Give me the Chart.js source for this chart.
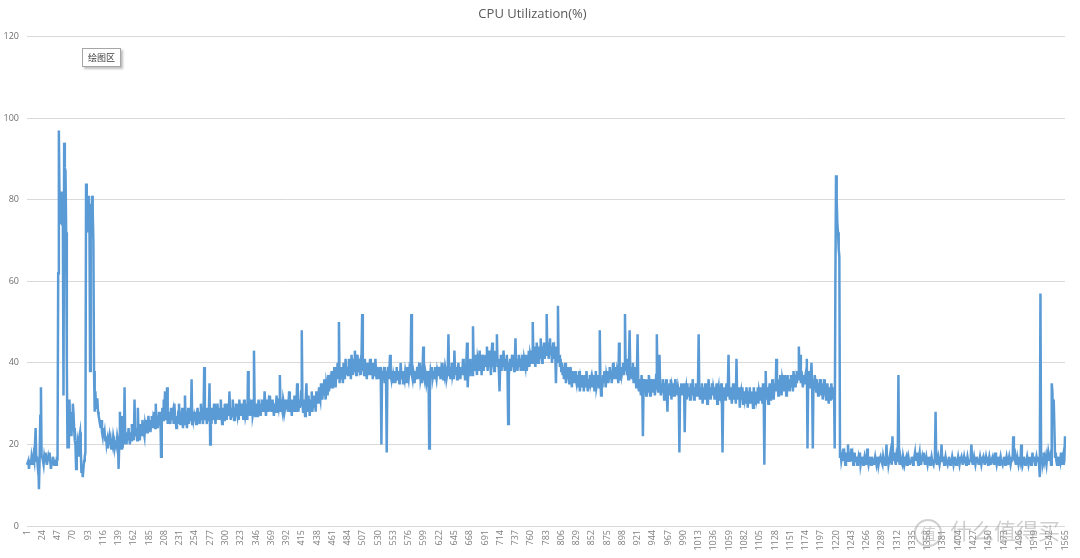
<!DOCTYPE html>
<html>
<head>
<meta charset="utf-8">
<title>CPU Utilization(%)</title>
<script src="https://cdn.jsdelivr.net/npm/chart.js@4/dist/chart.umd.min.js"></script>
<style>
  html, body { margin: 0; padding: 0; background: #fff; }
  #wrap { position: relative; width: 1080px; height: 558px; }
  #plot-tip {
    position: absolute; left: 82px; top: 48px; width: 37px; height: 17px;
    border: 1px solid #a6a6a6; background: #fff; box-shadow: 2px 2px 2px rgba(0,0,0,0.25);
    font: 9px "Noto Sans CJK SC", sans-serif; color: #404040;
    line-height: 17px; text-align: center;
  }
  #mark {
    position: absolute; left: 914px; top: 514px; height: 30px;
    font: 22px "Noto Sans CJK SC", sans-serif; color: rgba(150,150,150,0.45);
    white-space: nowrap; line-height: 30px;
  }
  #mark span.ring {
    display: inline-block; width: 24px; height: 24px; border: 2px solid rgba(150,150,150,0.45);
    border-radius: 50%; font-size: 16px; line-height: 24px; text-align: center; margin-right: 8px;
    vertical-align: middle;
  }
</style>
</head>
<body>
<div id="wrap">
  <canvas id="cpu-chart" width="1080" height="558"></canvas>
  <div id="plot-tip">绘图区</div>
  <div id="mark"><span class="ring">值</span>什么值得买</div>
</div>
<script>
// one sample per row position, 23 samples per line (matches the axis label step)
const cpuUtilization = [
  15,15,16,14,16,16,15,17,16,15,17,16,16,24,16,17,15,16,9,16,27,34,17,
  17,16,15,17,16,18,16,15,16,17,16,18,16,14,15,16,17,16,15,16,16,15,17,
  16,62,97,80,82,74,82,74,76,32,94,88,87,72,40,19,25,19,31,24,28,22,26,
  30,28,24,21,20,14,19,21,20,17,22,23,19,13,15,12,14,16,17,18,84,75,72,
  81,72,78,38,79,73,81,77,70,38,28,33,29,31,31,28,27,26,25,24,26,23,22,
  24,22,23,21,22,20,21,19,21,22,20,21,19,21,20,22,21,19,20,21,20,22,21,
  14,20,28,21,19,27,19,22,20,34,21,22,20,23,21,24,22,20,23,21,25,22,24,
  21,31,23,22,24,21,29,23,22,21,25,23,22,26,24,23,22,25,24,26,23,25,27,
  24,26,23,25,27,24,26,25,28,24,30,25,27,24,26,28,25,27,17,25,29,26,31,
  28,33,26,27,34,25,28,26,27,25,29,26,27,28,25,30,27,26,24,27,25,28,30,
  27,25,28,26,29,24,27,25,32,26,28,24,27,29,25,28,26,27,36,25,28,26,27,
  26,28,25,27,29,26,28,25,27,30,26,28,25,27,39,26,28,27,25,29,26,28,35,
  20,27,25,29,26,28,30,27,25,28,26,30,27,29,26,28,31,27,25,29,28,26,30,
  27,29,26,30,28,27,33,28,26,29,27,31,28,26,29,27,30,28,27,29,26,31,28,
  29,27,30,28,26,31,29,27,28,30,26,38,28,30,27,29,28,31,27,28,43,29,27,
  28,30,27,29,31,28,30,27,29,28,31,29,28,33,30,27,29,31,28,30,29,32,28,
  30,28,31,29,27,30,28,29,32,28,30,29,31,37,28,30,29,28,31,30,28,29,31,
  29,31,28,30,33,28,30,29,27,31,29,28,32,30,28,29,35,30,28,31,29,30,33,
  48,30,28,31,29,27,31,35,29,28,32,30,27,31,29,33,28,30,32,29,31,28,33,
  31,33,30,34,32,31,35,33,31,34,32,36,33,31,35,34,32,37,33,35,34,36,38,
  34,37,35,39,36,34,38,36,40,37,50,35,38,36,39,37,35,40,38,36,41,38,37,
  39,37,41,38,40,36,42,39,37,41,38,43,39,37,40,42,38,41,39,40,37,41,52,
  38,40,37,41,39,38,36,40,38,37,39,41,37,38,40,36,39,37,38,41,37,36,39,
  37,38,36,39,37,20,38,36,37,39,35,38,36,18,37,39,36,38,42,37,36,38,35,
  37,36,38,35,37,39,36,38,37,35,36,40,37,36,38,35,37,36,38,37,35,39,37,
  36,38,37,39,52,37,36,38,37,35,38,36,37,39,36,38,37,40,36,37,35,38,44,
  37,36,38,37,35,36,37,38,19,36,38,37,39,36,37,38,36,39,37,36,38,37,39,
  37,39,36,38,37,40,36,38,37,39,38,36,37,38,47,37,39,36,38,40,37,38,36,
  43,38,37,39,36,38,40,37,38,36,39,37,38,41,37,39,36,38,40,45,34,38,37,
  39,41,38,40,37,49,39,41,38,42,39,37,41,40,38,43,39,41,37,42,40,38,41,
  39,42,40,44,38,41,39,43,40,37,42,45,39,41,38,43,40,42,47,39,41,38,33,
  40,42,38,41,39,43,40,38,41,39,42,38,25,40,39,41,38,40,42,39,41,38,40,
  46,39,41,38,40,42,39,41,38,40,39,42,38,41,40,39,42,38,40,41,43,39,42,
  41,43,40,50,42,44,41,39,43,45,42,40,44,41,43,46,42,40,44,42,45,41,43,
  44,52,42,45,41,43,46,42,44,40,43,45,41,43,42,35,44,41,54,40,42,39,41,
  38,40,37,39,36,38,40,35,37,39,36,38,35,37,39,36,34,38,36,37,35,38,36,
  35,37,34,36,38,33,36,35,37,34,36,33,37,35,34,38,35,33,36,34,37,35,36,
  34,36,35,37,33,36,38,34,35,37,36,34,48,35,32,36,34,37,35,38,36,34,37,
  36,38,35,37,39,36,38,35,37,40,36,38,37,39,36,38,37,35,45,38,36,39,37,
  38,40,37,39,52,38,41,37,39,36,40,48,37,39,36,38,40,35,37,39,36,34,38,
  47,35,33,36,34,32,37,35,22,34,36,33,35,32,36,34,33,37,35,32,34,36,33,
  35,33,36,32,34,37,47,35,33,36,42,34,32,35,33,36,34,31,35,33,36,32,28,
  34,32,35,33,36,31,34,33,35,32,34,36,33,35,32,34,33,18,34,32,35,33,34,
  32,35,23,33,34,31,35,32,34,33,31,35,32,34,36,33,31,34,32,35,33,32,34,
  47,33,31,34,32,35,30,33,34,31,35,32,34,30,33,36,32,34,31,33,35,32,34,
  33,31,34,32,35,30,33,34,31,33,32,35,31,18,33,32,34,31,33,35,32,34,42,
  33,31,34,32,30,33,35,31,32,34,30,41,32,33,31,34,29,32,33,31,34,30,32,
  31,33,30,34,32,29,33,31,34,30,32,33,31,29,34,32,30,33,31,32,34,30,33,
  32,34,31,33,30,35,32,15,33,38,31,34,32,30,33,35,31,34,32,36,33,31,34,
  35,33,41,34,36,32,35,33,37,34,32,36,35,33,37,34,36,32,35,37,34,36,33,
  35,37,34,36,33,38,35,37,34,36,35,38,36,44,37,42,35,38,36,34,37,35,36,
  37,35,41,19,36,38,35,34,37,40,35,19,36,34,37,35,33,36,34,32,35,33,36,
  34,32,35,31,33,36,32,34,31,33,35,32,30,34,31,33,35,32,34,31,33,19,59,
  86,80,74,72,68,66,17,18,16,17,16,19,16,17,15,16,18,16,20,17,16,18,16,
  19,16,17,15,16,18,16,17,16,15,16,17,16,18,15,16,17,16,15,16,17,16,15,
  16,19,16,15,16,17,16,15,17,16,16,15,16,17,16,15,16,17,15,16,16,17,16,
  16,15,17,16,16,15,16,20,16,17,15,16,17,18,16,15,22,17,16,18,16,15,17,
  16,17,37,16,15,17,16,16,15,17,16,15,16,16,17,15,16,17,16,15,16,16,17,
  16,15,16,17,18,16,17,18,16,15,17,18,16,15,16,17,16,18,16,15,16,17,16,
  15,16,17,16,15,16,17,16,16,15,16,17,28,16,15,16,17,16,15,16,17,20,16,
  17,16,15,16,17,16,16,15,16,17,16,15,16,16,17,16,15,16,17,16,15,16,16,
  17,16,15,16,16,17,16,15,16,17,16,16,15,16,17,16,15,16,16,17,20,16,15,
  16,17,16,15,16,17,16,16,15,16,17,16,15,16,16,17,16,15,16,17,16,16,15,
  16,17,16,15,16,16,17,16,15,16,18,16,15,16,17,16,15,16,17,16,16,15,16,
  17,16,15,16,17,16,15,16,17,16,15,16,17,16,22,17,19,16,15,16,17,16,15,
  16,17,16,20,16,15,16,17,16,15,16,16,17,16,15,16,17,16,15,16,18,16,17,
  16,15,16,17,16,17,16,15,12,57,16,17,15,16,18,16,17,16,15,17,16,18,17,
  16,17,15,35,33,26,31,24,17,18,16,15,17,16,15,17,16,18,15,16,17,15,16,
  22
];

// sample numbers 1..N on the category axis
const categories = cpuUtilization.map((v, i) => String(i + 1));
const labelStep = 23;
const yTicks = [0, 20, 40, 60, 80, 100, 120];

Chart.defaults.font.family = "'Open Sans', 'Noto Sans CJK SC', sans-serif";
Chart.defaults.color = '#595959';

const ctx = document.getElementById('cpu-chart').getContext('2d');
new Chart(ctx, {
  type: 'line',
  data: {
    labels: categories,
    datasets: [{
      label: 'CPU Utilization(%)',
      data: cpuUtilization,
      borderColor: '#5b9bd5',
      borderWidth: 2.5,
      pointRadius: 0,
      tension: 0,
      fill: false
    }]
  },
  options: {
    responsive: false,
    animation: false,
    layout: { padding: { left: 0, right: 15, top: 0, bottom: 0 } },
    plugins: {
      legend: { display: false },
      tooltip: { enabled: false },
      title: {
        display: true,
        text: 'CPU Utilization(%)',
        color: '#595959',
        font: { size: 13, weight: 'normal' },
        padding: { top: 6, bottom: 15 }
      }
    },
    scales: {
      x: {
        offset: false,
        grid: { display: false, drawTicks: false },
        border: { display: false },
        ticks: {
          autoSkip: false,
          maxRotation: 90,
          minRotation: 90,
          padding: 4,
          color: '#7f7f7f',
          font: { size: 9 },
          callback: function(val, index) {
            return index % labelStep === 0 ? this.getLabelForValue(val) : null;
          }
        },
        afterFit: function(scale) { scale.height = 32; }
      },
      y: {
        min: yTicks[0],
        max: yTicks[yTicks.length - 1],
        afterBuildTicks: function(scale) {
          scale.ticks = yTicks.map(v => ({ value: v }));
        },
        grid: { color: '#d9d9d9', lineWidth: 1, drawTicks: false },
        border: { display: false },
        ticks: { padding: 8, color: '#6f6f6f', font: { size: 9 } },
        afterFit: function(scale) { scale.width = 27; }
      }
    }
  }
});
</script>
</body>
</html>
